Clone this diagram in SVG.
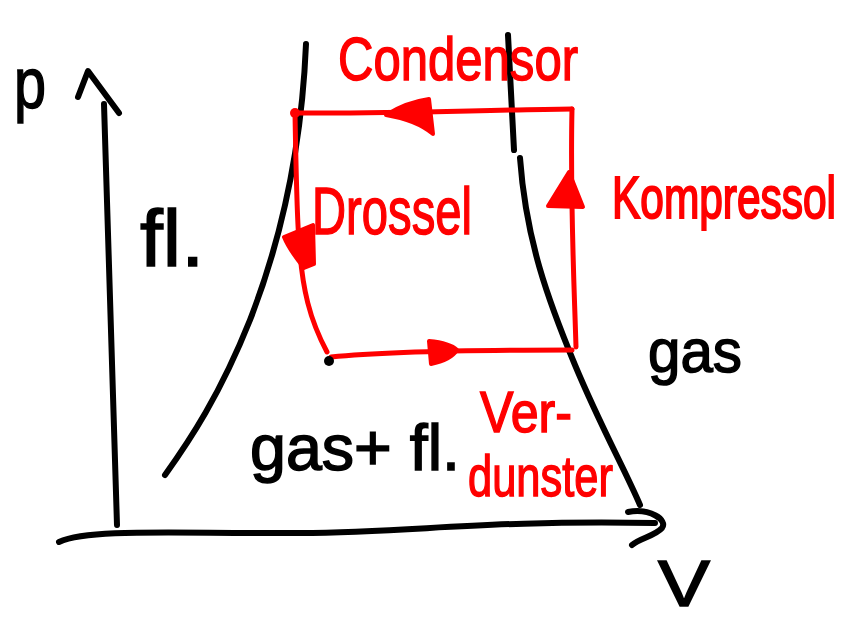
<svg xmlns="http://www.w3.org/2000/svg" width="856" height="619" viewBox="0 0 856 619">
<style>
.ink{fill:none;stroke:#000;stroke-width:6;stroke-linecap:round;stroke-linejoin:round}
.red{fill:none;stroke:#ff0000;stroke-width:5;stroke-linecap:round;stroke-linejoin:round}
.head{fill:#ff0000;stroke:#ff0000;stroke-width:4;stroke-linejoin:round}
.tb{font-family:"Liberation Sans",Arial,sans-serif;fill:#000;stroke:#000;stroke-width:1.5}
.tr{font-family:"Liberation Sans",Arial,sans-serif;fill:#ff0000;stroke:#ff0000;stroke-width:1.5}
</style>
<rect width="856" height="619" fill="#fff"/>
<g id="axes">
  <path class="ink" d="M104,104 L117,525"/>
  <path class="ink" d="M78,97 L88,71 L119,113"/>
  <path class="ink" d="M59,542 C90,528 180,534 300,533 C420,532 480,520 655,523"/>
  <path class="ink" d="M628,512 C650,508 668,520 662,528 C655,536 640,538 632,545"/>
</g>
<g id="saturation-dome">
  <path class="ink" d="M306,44 C302,140 285,230 250,320 C220,395 190,440 165,475"/>
  <path class="ink" d="M508,35 L514,150"/>
  <path class="ink" d="M520,158 C526,240 548,300 575,365 C600,425 625,470 640,505"/>
</g>
<g id="connectors">
  <path class="red" d="M295,113 C390,114 480,110 572,109"/>
  <path class="red" d="M572,109 C570,200 574,280 576,347"/>
  <path class="red" d="M295,113 C296,170 297,220 299,240 C302,290 310,320 327,352"/>
  <path class="red" d="M331,357 C380,352 470,350 572,350"/>
  <circle cx="295" cy="113" r="5" fill="#ff0000"/>
  <circle cx="329" cy="361" r="5" fill="#000"/>
  <path class="head" d="M386,115 C400,106 415,101 429,99 L433,134 C420,123 404,118 386,115 Z"/>
  <path class="head" d="M284,237 L313,225 L314,264 L304,268 C296,258 288,247 284,237 Z"/>
  <path class="head" d="M429,341 C440,342 452,345 457,350 C452,358 442,362 431,364 Z"/>
  <path class="head" d="M569,172 L583,207 L548,206 Z"/>
</g>
<g id="label-p"><text class="tb" x="14" y="108" font-size="72" transform="translate(14,0) scale(0.8,1) translate(-14,0)">p</text></g>
<g id="label-V"><text class="tb" x="658" y="606" font-size="64" textLength="52" lengthAdjust="spacingAndGlyphs">V</text></g>
<g id="label-fl"><text class="tb" x="140" y="266" font-size="80" textLength="64" lengthAdjust="spacingAndGlyphs">fl.</text></g>
<g id="label-gas"><text class="tb" x="648" y="372" font-size="62" textLength="94" lengthAdjust="spacingAndGlyphs">gas</text></g>
<g id="label-gasfl"><text class="tb" x="250" y="470" font-size="64" textLength="210" lengthAdjust="spacingAndGlyphs">gas+ fl.</text></g>
<g id="label-condensor"><text class="tr" x="338" y="80" font-size="62" textLength="240" lengthAdjust="spacingAndGlyphs">Condensor</text></g>
<g id="label-drossel"><text class="tr" x="312" y="234" font-size="66" textLength="160" lengthAdjust="spacingAndGlyphs">Drossel</text></g>
<g id="label-kompressol"><text class="tr" x="612" y="218" font-size="43" stroke-width="1.2" textLength="224" lengthAdjust="spacingAndGlyphs" transform="translate(0,218) scale(1,1.38) translate(0,-218)">Kompressol</text></g>
<g id="label-verdunster">
  <text class="tr" x="480" y="432" font-size="58" textLength="92" lengthAdjust="spacingAndGlyphs">Ver-</text>
  <text class="tr" x="468" y="496" font-size="58" textLength="145" lengthAdjust="spacingAndGlyphs">dunster</text>
</g>
</svg>
